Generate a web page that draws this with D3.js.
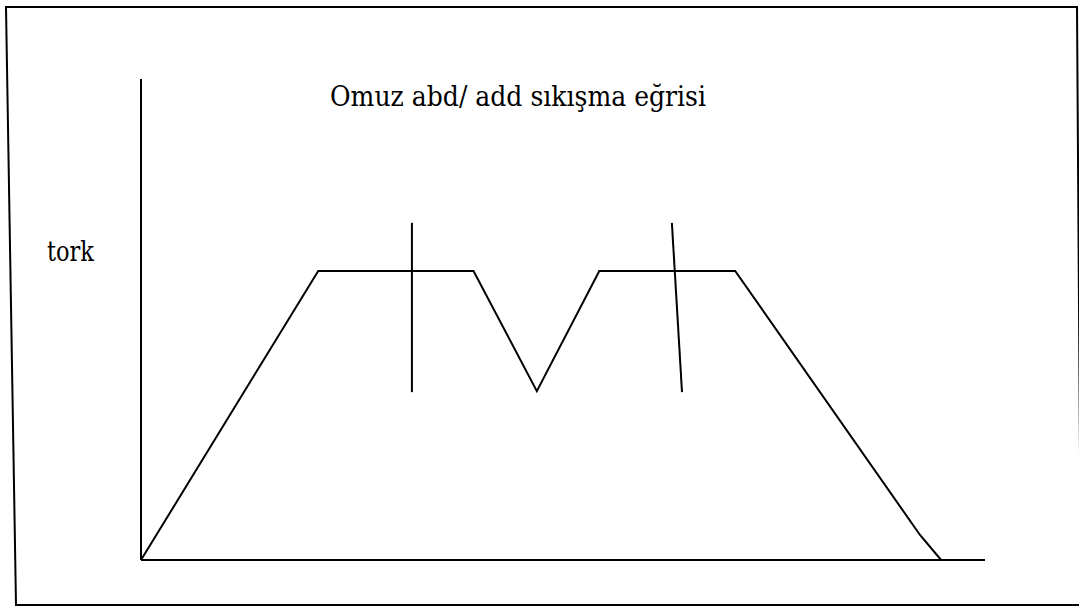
<!DOCTYPE html>
<html>
<head>
<meta charset="utf-8">
<script src="https://cdn.jsdelivr.net/npm/d3@7"></script>
<style>
    body { margin: 0; background: #fff; }
</style>
</head>
<body>
<div id="chart"></div>
<script>
// torque curve (relative units, 0-100 on both axes)
const curveX = [0, 21, 39.4, 46.9, 54.3, 70.4, 92.3, 94.8];
const curveY = [0, 60.1, 60.1, 35.1, 60.1, 60.1, 5.2, 0];

// the two hand drawn marker strokes across the plateaus
const markerX1 = [32.1, 62.9];
const markerX2 = [32.1, 64.1];
const markerTop = 70.1;
const markerBottom = 34.9;

const titleText = "Omuz abd/ add sıkışma eğrisi";
const yLabel = "tork";

const W = 1079, H = 606;
// Liberation Serif is not picked up here, so use DejaVu Serif instead
const serif = "'DejaVu Serif Condensed', 'DejaVu Serif', serif";

let svg = d3.select("#chart").append("svg")
    .attr("width", W)
    .attr("height", H);

// outer frame (slightly skewed, like the original drawing)
svg.append("path")
    .attr("d", "M6,7 L1077,7 L1081,605 L16,605 Z")
    .attr("fill", "none")
    .attr("stroke", "#000")
    .attr("stroke-width", 2);

// scales
let x = d3.scaleLinear().domain([0, 100]).range([141, 985]);
let y = d3.scaleLinear().domain([0, 100]).range([560, 79]);

// axes as plain lines
svg.append("line")
    .attr("x1", x(0)).attr("x2", x(0))
    .attr("y1", y(0)).attr("y2", y(100))
    .attr("stroke", "#000").attr("stroke-width", 2);

svg.append("line")
    .attr("x1", x(0)).attr("x2", x(100))
    .attr("y1", y(0)).attr("y2", y(0))
    .attr("stroke", "#000").attr("stroke-width", 2);

// curve
let pts = curveX.map((d, i) => [d, curveY[i]]);
let line = d3.line()
    .x(d => x(d[0]))
    .y(d => y(d[1]));

svg.append("path")
    .datum(pts)
    .attr("d", line)
    .attr("fill", "none")
    .attr("stroke", "#000")
    .attr("stroke-width", 2)
    .attr("stroke-linejoin", "miter");

// markers
svg.selectAll(".marker")
    .data(markerX1)
    .enter()
    .append("line")
    .attr("class", "marker")
    .attr("x1", d => x(d))
    .attr("x2", (d, i) => x(markerX2[i]))
    .attr("y1", y(markerTop))
    .attr("y2", y(markerBottom))
    .attr("stroke", "#000")
    .attr("stroke-width", 2);

// texts
svg.append("text")
    .attr("x", 330)
    .attr("y", 106)
    .style("font-family", serif)
    .attr("font-size", 27)
    .attr("textLength", 376)
    .attr("lengthAdjust", "spacingAndGlyphs")
    .attr("fill", "#000")
    .text(titleText);

svg.append("text")
    .attr("x", 47)
    .attr("y", 261)
    .style("font-family", serif)
    .attr("font-size", 27)
    .attr("textLength", 47)
    .attr("lengthAdjust", "spacingAndGlyphs")
    .attr("fill", "#000")
    .text(yLabel);
</script>
</body>
</html>
